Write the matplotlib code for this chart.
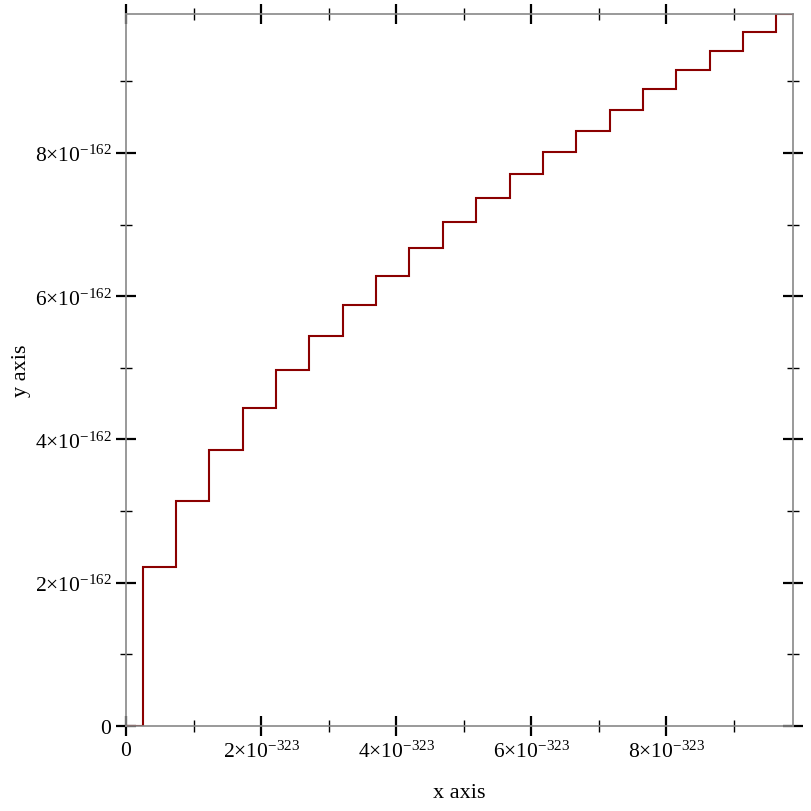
import matplotlib
matplotlib.use("Agg")
import matplotlib.pyplot as plt
from matplotlib.ticker import FixedLocator, FuncFormatter
import numpy as np

# x in units of 1e-323, y in units of 1e-162
jump_x = [0.247, 0.741, 1.235, 1.729, 2.223, 2.717, 3.211, 3.705, 4.199, 4.693,
          5.187, 5.681, 6.175, 6.669, 7.163, 7.657, 8.151, 8.645, 9.139, 9.633]
levels = [0.0, 2.22, 3.14, 3.85, 4.44, 4.97, 5.44, 5.88, 6.28, 6.67, 7.03,
          7.37, 7.70, 8.01, 8.31, 8.60, 8.89, 9.16, 9.43, 9.69, 9.94]
x_max = 9.88
y_max = 9.94
x_major = [0, 2, 4, 6, 8]
x_minor = [1, 3, 5, 7, 9]
y_major = [0, 2, 4, 6, 8]
y_minor = [1, 3, 5, 7, 9]
x_exp = -323
y_exp = -162

plt.rcParams['mathtext.fontset'] = 'custom'
plt.rcParams['mathtext.rm'] = 'Liberation Serif'
plt.rcParams['mathtext.it'] = 'Liberation Serif:italic'
plt.rcParams['font.family'] = ['Liberation Serif', 'DejaVu Serif']

fig = plt.figure(figsize=(8.12, 8.12), dpi=100)
ax = fig.add_axes([126/812, 1-727/812, (793-126)/812, (727-15)/812])

xs = [0.0] + jump_x + [x_max]
ys = levels + [levels[-1]]
ax.step(xs, ys, where='post', color='#8b0000', lw=1.5, solid_joinstyle='miter')

ax.set_xlim(0, x_max)
ax.set_ylim(0, y_max)

def fmt(exp):
    def f(v, pos):
        if v == 0:
            return '0'
        return r'$\mathrm{%d{\times}10^{%d}}$' % (int(round(v)), exp)
    return f

ax.xaxis.set_major_locator(FixedLocator(x_major))
ax.xaxis.set_minor_locator(FixedLocator(x_minor))
ax.yaxis.set_major_locator(FixedLocator(y_major))
ax.yaxis.set_minor_locator(FixedLocator(y_minor))
ax.xaxis.set_major_formatter(FuncFormatter(fmt(x_exp)))
ax.yaxis.set_major_formatter(FuncFormatter(fmt(y_exp)))

for s in ax.spines.values():
    s.set_color('#888888')
    s.set_linewidth(1.2)

ax.tick_params(which='major', direction='inout', length=15, width=1.6, color='black',
               top=True, right=True, labelsize=15.5)
ax.tick_params(axis='x', which='major', pad=3)
ax.tick_params(axis='y', which='major', pad=3)
ax.tick_params(which='minor', direction='inout', length=8, width=1.0, color='black',
               top=True, right=True)

ax.set_xlabel('x axis', fontsize=16, labelpad=15)
ax.set_ylabel('y axis', fontsize=16, labelpad=3)

fig.savefig('out.png', dpi=100)
